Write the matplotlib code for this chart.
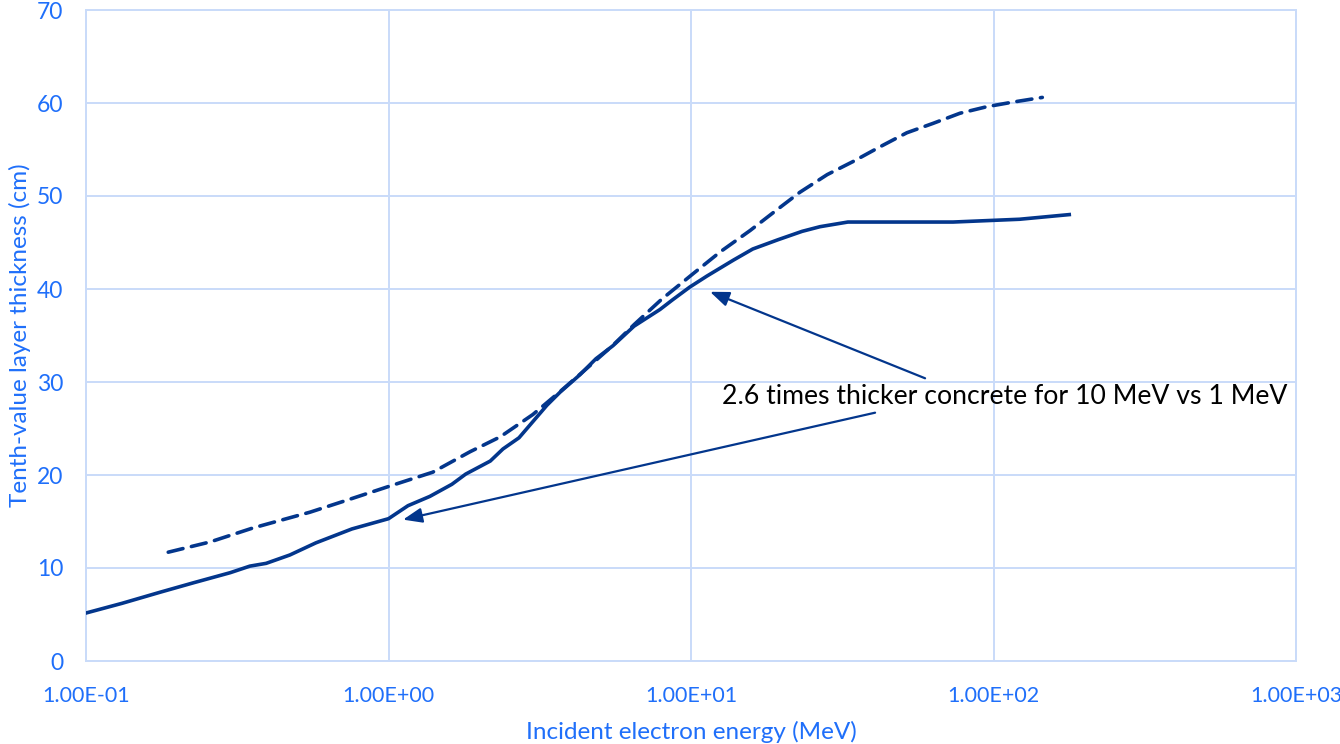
import matplotlib
matplotlib.use("Agg")
import matplotlib.pyplot as plt

# ---- data ----
solid_energy = [0.1, 0.1315, 0.176, 0.226, 0.30, 0.348, 0.394, 0.472, 0.575, 0.757,
                1.0, 1.16, 1.37, 1.62, 1.80, 2.17, 2.39, 2.70, 3.34, 3.69,
                4.30, 4.85, 5.52, 6.48, 7.90, 8.66, 9.9, 11.3, 13.8, 16.0,
                19.4, 23.3, 26.7, 33.0, 73.5, 122, 178]
solid_tvl = [5.16, 6.2, 7.4, 8.4, 9.5, 10.2, 10.5, 11.4, 12.7, 14.2,
             15.3, 16.7, 17.7, 19.0, 20.1, 21.5, 22.8, 24.0, 27.5, 28.9,
             30.8, 32.5, 33.9, 36.0, 37.8, 38.8, 40.2, 41.4, 43.1, 44.3,
             45.3, 46.2, 46.7, 47.2, 47.2, 47.5, 48.0]

dashed_energy = [0.187, 0.257, 0.356, 0.55, 0.73, 1.03, 1.40, 1.86, 2.34, 3.0,
                 3.7, 4.5, 5.5, 6.5, 8.0, 10.3, 12.5, 15.7, 19.2, 22.9,
                 28.2, 34.3, 42.2, 51.7, 63, 77.5, 95, 116, 145]
dashed_tvl = [11.7, 12.8, 14.3, 16.0, 17.3, 18.9, 20.3, 22.5, 24.1, 26.5,
              29.0, 31.4, 33.9, 36.2, 38.9, 41.8, 44.0, 46.3, 48.5, 50.4,
              52.3, 53.7, 55.3, 56.8, 57.8, 58.9, 59.6, 60.1, 60.6]

x_ticks = [0.1, 1, 10, 100, 1000]
x_ticklabels = ["1.00E-01", "1.00E+00", "1.00E+01", "1.00E+02", "1.00E+03"]
y_ticks = [0, 10, 20, 30, 40, 50, 60, 70]

annotation_text = "2.6 times thicker concrete for 10 MeV vs 1 MeV"
text_pos = (12.66, 28.4)
arrow1_tip, arrow1_start = (11.56, 39.7), (59.4, 30.4)
arrow2_tip, arrow2_start = (1.117, 15.2), (40.6, 26.7)

# ---- style ----
plt.rcParams['font.family'] = ['Lato', 'DejaVu Sans']
LINE = "#03368C"
GRID = "#C9DBF9"
TXT = "#1F6FFA"

fig = plt.figure(figsize=(13.4, 7.44), dpi=100)
ax = fig.add_axes([86/1340, 1 - 661/744, (1296-86)/1340, (661-10)/744])

ax.plot(solid_energy, solid_tvl, color=LINE, lw=2.6, solid_joinstyle='round', zorder=3)
ax.plot(dashed_energy, dashed_tvl, color=LINE, lw=2.6, linestyle=(0, (4.2, 2.4)),
        dash_capstyle='round', zorder=3)

ax.set_xscale('log')
ax.set_xlim(0.1, 1000)
ax.set_ylim(0, 70)
ax.set_xticks(x_ticks)
ax.set_xticklabels(x_ticklabels)
ax.xaxis.set_minor_locator(matplotlib.ticker.NullLocator())
ax.set_yticks(y_ticks)

ax.grid(True, color=GRID, lw=1.4, zorder=0)
for s in ax.spines.values():
    s.set_color(GRID)
    s.set_linewidth(1.4)
ax.tick_params(length=0, colors=TXT, labelsize=15.5)
ax.tick_params(axis='x', pad=18)
ax.tick_params(axis='y', pad=16.5)
ax.tick_params(axis='y', labelsize=16.5)

ax.set_xlabel("Incident electron energy (MeV)", color=TXT, fontsize=17.5, labelpad=11)
ax.set_ylabel("Tenth-value layer thickness (cm)", color=TXT, fontsize=17.5, labelpad=4)

ax.text(text_pos[0], text_pos[1], annotation_text, fontsize=19.2, color="black",
        va='center', ha='left', zorder=4)
for tip, start in [(arrow1_tip, arrow1_start), (arrow2_tip, arrow2_start)]:
    ax.annotate("", xy=tip, xytext=start,
                arrowprops=dict(arrowstyle='-|>,head_length=1.15,head_width=0.45',
                                color=LINE, lw=1.6, shrinkA=0, shrinkB=0), zorder=4)

fig.savefig("out.png", dpi=100)
